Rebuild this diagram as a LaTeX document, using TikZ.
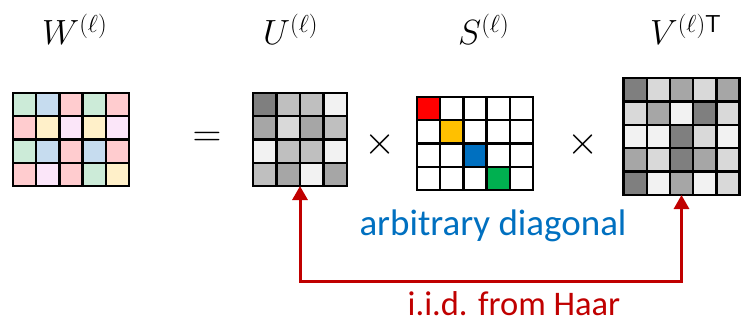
\RequirePackage{fix-cm}
\documentclass[tikz,border=0pt]{standalone}
\usepackage{fontspec}
\newfontfamily\calibrifont{Carlito}
\usetikzlibrary{arrows.meta}
\definecolor{pg}{HTML}{CCEBD8}
\definecolor{pb}{HTML}{C6DCEF}
\definecolor{pp}{HTML}{FFCCCF}
\definecolor{py}{HTML}{FFF0C9}
\definecolor{pl}{HTML}{FBE6F9}
\definecolor{ga}{HTML}{7F7F7F}
\definecolor{gb}{HTML}{A6A6A6}
\definecolor{gc}{HTML}{BFBFBF}
\definecolor{gd}{HTML}{D9D9D9}
\definecolor{ge}{HTML}{F2F2F2}
\definecolor{wh}{HTML}{FFFFFF}
\definecolor{sr}{HTML}{FF0000}
\definecolor{sy}{HTML}{FFC000}
\definecolor{sb}{HTML}{0070C0}
\definecolor{sg}{HTML}{00B050}
\definecolor{haar}{HTML}{C00000}
\tikzset{
  cellbox/.style={draw=black, line width=2.4pt, inner sep=0pt, outer sep=0pt},
  title/.style={anchor=base west, inner sep=0pt, font=\fontsize{35}{35}\selectfont},
  op/.style={inner sep=0pt, font=\fontsize{40}{40}\selectfont},
  labeltext/.style={anchor=base, inner sep=0pt, font=\calibrifont\fontsize{37}{37}\selectfont},
  haararrow/.style={draw=haar, line width=3pt, {Triangle[width=15pt,length=14pt]}-{Triangle[width=15pt,length=14pt]}},
}
\begin{document}
\begin{tikzpicture}[x=1pt, y=-1pt]
\useasboundingbox (0,0) rectangle (741,323);
% W grid
\foreach \row [count=\r] in {{pg,pb,pp,pg,pp},{pp,py,pl,py,pl},{pg,pb,pp,pb,pp},{pp,pl,pp,pg,py}}
  \foreach \c [count=\k] in \row
    \node[cellbox, fill=\c, minimum width=23.2pt, minimum height=23.25pt] (w-\r-\k) at ({13+23.2*(\k-0.5)},{93+23.25*(\r-0.5)}) {};
% U grid
\foreach \row [count=\r] in {{ga,gc,gc,ge},{gb,gd,gb,gc},{ge,gc,gc,ge},{gc,gb,ge,gb}}
  \foreach \c [count=\k] in \row
    \node[cellbox, fill=\c, minimum width=23.5pt, minimum height=23.25pt] (u-\r-\k) at ({253+23.5*(\k-0.5)},{93+23.25*(\r-0.5)}) {};
% S grid
\foreach \row [count=\r] in {{sr,wh,wh,wh,wh},{wh,sy,wh,wh,wh},{wh,wh,sb,wh,wh},{wh,wh,wh,sg,wh}}
  \foreach \c [count=\k] in \row
    \node[cellbox, fill=\c, minimum width=23.2pt, minimum height=23.25pt] (s-\r-\k) at ({417+23.2*(\k-0.5)},{97+23.25*(\r-0.5)}) {};
% V grid
\foreach \row [count=\r] in {{ga,gd,gb,gd,gb},{gd,gb,ge,ga,gd},{ge,ge,ga,gd,ge},{gb,gd,ga,gb,gd},{ga,ge,gb,ge,gd}}
  \foreach \c [count=\k] in \row
    \node[cellbox, fill=\c, minimum width=23.2pt, minimum height=23.4pt] (v-\r-\k) at ({623.5+23.2*(\k-0.5)},{78+23.4*(\r-0.5)}) {};
% titles
\node[title] (tw) at (42,45) {$W^{(\ell)}$};
\node[title] (tu) at (263,45) {$U^{(\ell)}$};
\node[title] (ts) at (458,45) {$S^{(\ell)}$};
\node[title] (tv) at (650,45) {$V^{(\ell)\mathsf{T}}$};
% operators
\node[op] (eq) at (207,139) {$=$};
\node[op] (x1) at (380,145) {$\times$};
\node[op] (x2) at (583,145) {$\times$};
% labels
\node[labeltext, text=sb] (arb) at (493,235) {arbitrary diagonal};
\node[labeltext, text=haar, font=\calibrifont\fontsize{34.5}{34.5}\selectfont] (iid) at (514,315) {i.i.d. from Haar};
% arrow
\coordinate (hl) at (0,281);
\draw[haararrow] (u-4-2.south east) -- (u-4-2.south east |- hl) -- (v-5-3.south |- hl) -- (v-5-3.south);
\end{tikzpicture}
\end{document}
